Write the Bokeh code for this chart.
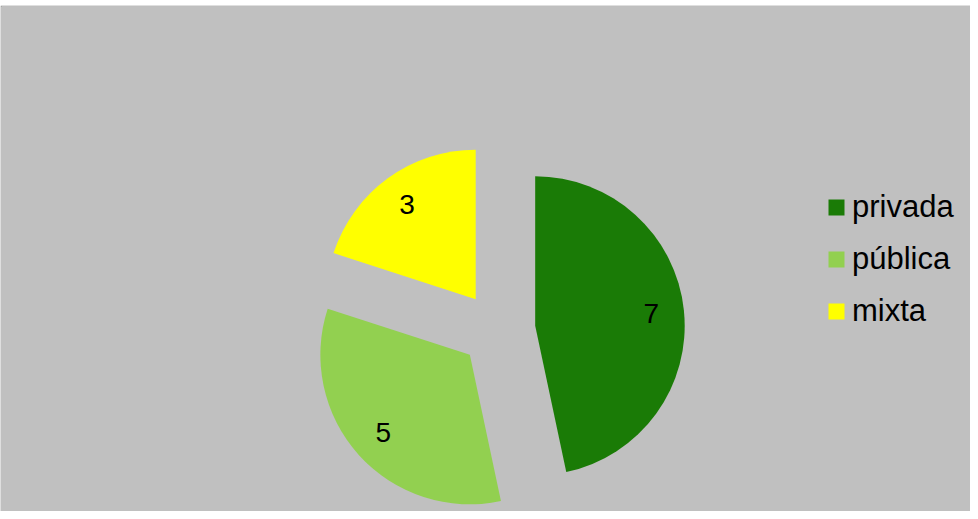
import math
from bokeh.plotting import figure
from bokeh.models import Range1d, Legend, LegendItem, Spacer, ColumnDataSource
from bokeh.layouts import column
from bokeh.embed import file_html
from bokeh.resources import INLINE
from bokeh.core.properties import value

# ---- data ----
categories = ["privada", "pública", "mixta"]
counts = [7, 5, 3]
colors = ["#1a7b06", "#92d050", "#ffff00"]

# ---- layout (pixels; data units are 1:1 with pixels) ----
W, H = 970, 506
FW, FH = W - 1, H - 1          # frame size (1px grey border on top/left)
CX, CY = 496.3, 181.8          # pie centre in frame coordinates
R = 149.5                      # pie radius
EXPLODE = 37.6                 # explosion distance
LABEL_R = 0.78 * R
FONT = "Liberation Sans"

total = sum(counts)
xs, ys, starts, ends, lx, ly, texts = [], [], [], [], [], [], []
cum = 0
for c in counts:
    th1 = cum / total * 360.0
    th2 = (cum + c) / total * 360.0
    mid = math.radians((th1 + th2) / 2)
    x = CX + EXPLODE * math.sin(mid)
    y = CY + EXPLODE * math.cos(mid)
    xs.append(x)
    ys.append(y)
    starts.append(math.radians(90 - th2))
    ends.append(math.radians(90 - th1))
    lx.append(x + LABEL_R * math.sin(mid))
    ly.append(y + LABEL_R * math.cos(mid))
    texts.append(str(c))
    cum += c

src = ColumnDataSource(dict(x=xs, y=ys, start=starts, end=ends, color=colors,
                            cat=categories, lx=lx, ly=ly, txt=texts))

p = figure(width=W, height=H, output_backend="svg", toolbar_location=None,
           x_range=Range1d(0, FW), y_range=Range1d(0, FH),
           x_axis_location=None, y_axis_location=None,
           min_border_left=1, min_border_top=1, min_border_right=0, min_border_bottom=0,
           background_fill_color="#c0c0c0", border_fill_color="#808080",
           outline_line_color=None)
p.grid.visible = False

wr = p.wedge(x="x", y="y", radius=R, start_angle="start", end_angle="end",
             fill_color="color", line_color=None, source=src)

p.text(x="lx", y="ly", text="txt", source=src, text_font=value(FONT),
       text_font_size="28px", text_align="center", text_baseline="middle",
       text_color="black")

legend = Legend(items=[LegendItem(label=cat, renderers=[wr], index=i)
                       for i, cat in enumerate(categories)],
                location=(825, 182), orientation="vertical",
                glyph_width=20, glyph_height=20, label_standoff=6,
                spacing=16, padding=0, margin=0,
                border_line_color=None, background_fill_alpha=0,
                label_text_font=FONT, label_text_font_size="31px",
                label_text_color="black")
p.add_layout(legend)

layout = column(Spacer(width=W, height=5), p)
open("out.html", "w").write(file_html(layout, INLINE))
